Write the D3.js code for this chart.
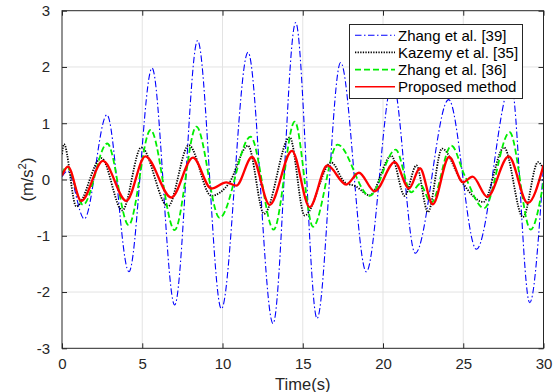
<!DOCTYPE html>
<html>
<head>
<meta charset="utf-8">
<script src="https://cdn.jsdelivr.net/npm/d3@7"></script>
<style>
  html, body { margin: 0; padding: 0; background: #fff; }
  svg { display: block; font-family: "Liberation Sans", Arial, sans-serif; }
  .grid line { stroke: #e3e3e3; stroke-width: 1; }
  .tick-label { fill: #262626; font-size: 15px; }
</style>
</head>
<body>
<div id="chart"></div>
<script>
// Acceleration comparison, MATLAB-style axes drawn with d3.
// Series are read off the picture as turning points; d3.curveMonotoneX
// does the smoothing between them.

var xTicks = [0, 5, 10, 15, 20, 25, 30];
var yTicks = [-3, -2, -1, 0, 1, 2, 3];

var seriesNames = ["Zhang et al. [39]", "Kazemy et al. [35]", "Zhang et al. [36]", "Proposed method"];

var zhang39T = [0, 0.35, 1.39, 2.80, 4.17, 5.61, 7.02, 8.45, 9.93, 11.59, 13.15, 14.56, 15.89, 17.36, 18.96, 20.6, 22.01, 24.09, 25.82, 27.98, 29.14, 30];
var zhang39V = [0.05, 0.15, -0.70, 1.15, -1.64, 1.98, -2.23, 2.47, -2.30, 2.26, -2.56, 2.79, -2.47, 2.08, -1.64, 1.75, -1.31, 1.42, -1.24, 1.70, -2.19, 0.25];

var kazemy35T = [0, 0.12, 0.89, 2.45, 3.76, 4.94, 6.6, 7.9, 9.3, 10.4, 11.59, 12.59, 14.19, 15.12, 16.78, 17.61, 18.3, 19.17, 20.52, 21.35, 22.08, 22.8, 23.68, 24.88, 26.25, 27.54, 28.72, 29.66, 30];
var kazemy35V = [0.45, 0.63, -0.48, 0.38, -0.55, 0.57, -0.48, 0.61, -0.29, -0.07, 0.60, -0.61, 0.75, -0.64, 0.30, -0.05, -0.12, -0.28, 0.42, -0.29, 0.25, -0.58, 0.55, -0.03, -0.40, 0.57, -0.67, 0.31, 0.18];

var zhang36T = [0, 0.3, 1.31, 2.82, 4.15, 5.52, 7.02, 8.37, 9.82, 11.75, 13.19, 14.5, 15.64, 17.17, 19.17, 20.79, 21.76, 22.3, 23.0, 24.26, 25.09, 26.3, 27.89, 29.2, 30];
var zhang36V = [0.1, 0.23, -0.45, 0.64, -0.81, 0.88, -0.90, 0.94, -0.68, 0.76, -0.89, 1.03, -0.84, 0.62, -0.29, 0.53, -0.23, -0.08, -0.41, 0.60, 0.07, -0.51, 0.84, -0.89, -0.05];

var proposedT = [0, 0.37, 1.2, 2.55, 4.01, 5.19, 6.81, 8.16, 9.3, 10.24, 10.86, 11.84, 12.94, 14.33, 15.43, 16.53, 17.71, 18.5, 19.48, 20.73, 21.62, 22.3, 23.1, 24.12, 24.98, 25.58, 26.5, 27.83, 29.02, 30];
var proposedV = [0.07, 0.23, -0.38, 0.33, -0.38, 0.41, -0.32, 0.39, -0.16, -0.05, -0.11, 0.40, -0.45, 0.51, -0.49, 0.25, -0.09, 0.12, -0.21, 0.31, -0.16, 0.20, -0.44, 0.40, -0.05, 0.05, -0.31, 0.41, -0.42, 0.25];

(function () {
  var W = 555, H = 392;
  var left = 62, right = 543.5, top = 10.7, bottom = 348.3;
  var axisColor = "#262626";

  var x = d3.scaleLinear().domain([0, 30]).range([left, right]);
  var y = d3.scaleLinear().domain([-3, 3]).range([bottom, top]);

  // MATLAB prints plain integers with an ASCII hyphen for negatives.
  function plain(d) { return String(d); }

  function pairs(ts, vs) {
    return ts.map(function (t, i) { return [t, vs[i]]; });
  }

  var series = [
    { name: seriesNames[0], data: pairs(zhang39T, zhang39V), color: "#0000ff", width: 1.1, dash: "6.5,2.5,1.5,2.5" },
    { name: seriesNames[1], data: pairs(kazemy35T, kazemy35V), color: "#000000", width: 1.8, dash: "1.3,1.3" },
    { name: seriesNames[2], data: pairs(zhang36T, zhang36V), color: "#00ee00", width: 1.8, dash: "6,3" },
    { name: seriesNames[3], data: pairs(proposedT, proposedV), color: "#ff0000", width: 2.3, dash: null }
  ];

  var svg = d3.select("#chart").append("svg")
    .attr("width", W).attr("height", H);

  svg.append("defs").append("clipPath").attr("id", "plot-clip")
    .append("rect")
    .attr("x", left).attr("y", top)
    .attr("width", right - left).attr("height", bottom - top);

  // -- grid ---------------------------------------------------------------
  var grid = svg.append("g").attr("class", "grid");
  grid.selectAll("line.gx").data(xTicks.slice(1, -1)).join("line")
    .attr("class", "gx")
    .attr("x1", function (d) { return x(d); }).attr("x2", function (d) { return x(d); })
    .attr("y1", top).attr("y2", bottom);
  grid.selectAll("line.gy").data(yTicks.slice(1, -1)).join("line")
    .attr("class", "gy")
    .attr("x1", left).attr("x2", right)
    .attr("y1", function (d) { return y(d); }).attr("y2", function (d) { return y(d); });

  // -- series ---------------------------------------------------------------
  var line = d3.line()
    .x(function (d) { return x(d[0]); })
    .y(function (d) { return y(d[1]); })
    .curve(d3.curveMonotoneX);

  var plot = svg.append("g").attr("clip-path", "url(#plot-clip)");
  plot.selectAll("path").data(series).join("path")
    .attr("d", function (s) { return line(s.data); })
    .attr("fill", "none")
    .attr("stroke", function (s) { return s.color; })
    .attr("stroke-width", function (s) { return s.width; })
    .attr("stroke-dasharray", function (s) { return s.dash; })
    .attr("stroke-linejoin", "round");

  // -- axes: box with inward ticks on all four sides -----------------------
  var tickLen = 5;
  var axes = svg.append("g");

  axes.append("g").attr("transform", "translate(0," + bottom + ")")
    .call(d3.axisBottom(x).tickValues(xTicks).tickFormat(plain)
      .tickSizeInner(-tickLen).tickSizeOuter(0).tickPadding(10));
  axes.append("g").attr("transform", "translate(0," + top + ")")
    .call(d3.axisTop(x).tickValues(xTicks).tickSizeInner(-tickLen).tickSizeOuter(0).tickFormat(""));
  axes.append("g").attr("transform", "translate(" + left + ",0)")
    .call(d3.axisLeft(y).tickValues(yTicks).tickFormat(plain)
      .tickSizeInner(-tickLen).tickSizeOuter(0).tickPadding(12));
  axes.append("g").attr("transform", "translate(" + right + ",0)")
    .call(d3.axisRight(y).tickValues(yTicks).tickSizeInner(-tickLen).tickSizeOuter(0).tickFormat(""));

  axes.selectAll(".domain").remove();
  axes.selectAll(".tick line").attr("stroke", axisColor);
  axes.selectAll(".tick text")
    .attr("class", "tick-label")
    .attr("font-family", null).attr("font-size", null).attr("fill", null);

  axes.append("rect")
    .attr("x", left).attr("y", top)
    .attr("width", right - left).attr("height", bottom - top)
    .attr("fill", "none").attr("stroke", axisColor).attr("stroke-width", 1);

  // -- labels -----------------------------------------------------------------
  svg.append("text")
    .attr("x", (left + right) / 2).attr("y", 390)
    .attr("text-anchor", "middle")
    .attr("font-size", 16.5).attr("fill", axisColor)
    .text("Time(s)");

  var yl = svg.append("text")
    .attr("transform", "translate(33," + ((top + bottom) / 2) + ") rotate(-90)")
    .attr("text-anchor", "middle")
    .attr("font-size", 16.5).attr("fill", axisColor);
  yl.append("tspan").text("(m/s");
  yl.append("tspan").attr("dy", -7).attr("font-size", 11.5).text("2");
  yl.append("tspan").attr("dy", 7).text(")");

  // -- legend -----------------------------------------------------------------
  var lg = svg.append("g");
  lg.append("rect")
    .attr("x", 349.5).attr("y", 24.5).attr("width", 173).attr("height", 74)
    .attr("fill", "#fff").attr("stroke", axisColor).attr("stroke-width", 1);

  var row = lg.selectAll("g.row").data(series).join("g")
    .attr("class", "row")
    .attr("transform", function (s, i) { return "translate(0," + (35.2 + i * 17.2) + ")"; });
  row.append("line")
    .attr("x1", 355).attr("x2", 395).attr("y1", 0).attr("y2", 0)
    .attr("stroke", function (s) { return s.color; })
    .attr("stroke-width", function (s) { return Math.min(s.width, 1.6); })
    .attr("stroke-dasharray", function (s) { return s.dash; });
  row.append("text")
    .attr("x", 398).attr("y", 5.3)
    .attr("font-size", 15).attr("fill", "#000")
    .text(function (s) { return s.name; });
})();
</script>
</body>
</html>
